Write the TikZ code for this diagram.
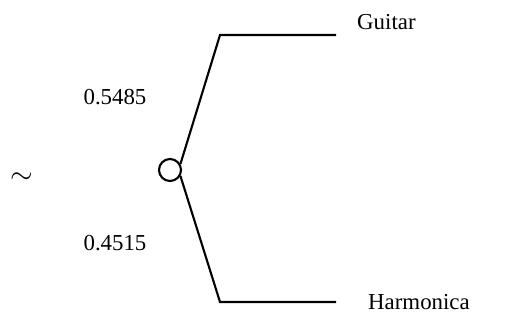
\documentclass[tikz,border=0pt]{standalone}
\usepackage{fontspec}
\setmainfont{Liberation Serif}
\usetikzlibrary{positioning}

\begin{document}
\begin{tikzpicture}[
    x=0.03cm, y=-0.03cm,
    branch/.style={line width=1.8pt},
    chance/.style={circle, draw, line width=1.8pt, minimum size=0.66cm, inner sep=0pt},
    leaf/.style={font=\fontsize{19.5}{22}\selectfont, anchor=west, inner sep=0pt},
    prob/.style={font=\fontsize{19.5}{22}\selectfont}
]
\useasboundingbox (0,0) rectangle (512,320);
% 機会ノード
\node[chance] (c) at (170,170) {};
\node[font=\fontsize{26}{28}\selectfont] (tilde) at (22,178) {$\sim$};

% 枝
\coordinate (u1) at (220,35);
\coordinate (u2) at (336,35);
\coordinate (d1) at (220,302);
\coordinate (d2) at (336,302);
\draw[branch] (c.30) -- (u1) -- (u2);
\draw[branch] (c.-30) -- (d1) -- (d2);

% ラベル
\node[leaf] (guitar) at (357,22) {Guitar};
\node[leaf] (harm) at (368,302) {Harmonica};
\node[prob] (pu) at (115,97) {0.5485};
\node[prob] (pd) at (115,243) {0.4515};
\end{tikzpicture}
\end{document}
